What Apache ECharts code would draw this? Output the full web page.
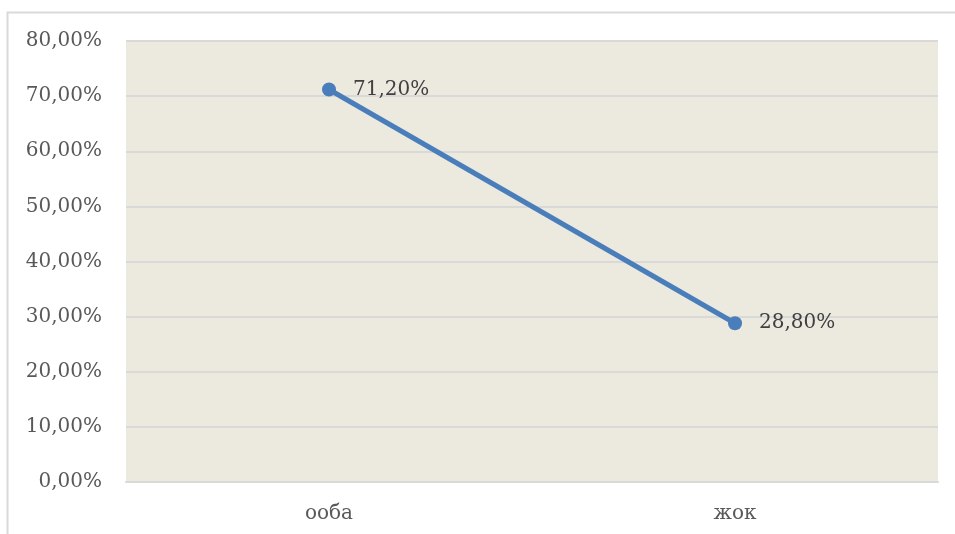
<!DOCTYPE html>
<html>
<head>
<meta charset="utf-8">
<script src="https://cdn.jsdelivr.net/npm/echarts@6/dist/echarts.min.js"></script>
<style>
  html, body { margin: 0; padding: 0; background: #fff; }
  #chart { width: 955px; height: 534px; }
</style>
</head>
<body>
<div id="chart"></div>
<script>
// категории и значения (%)
var categories = ['ооба', 'жок'];
var values = [71.2, 28.8];
var yTicks = { min: 0, max: 80, interval: 10 };

var fontFamily = '"DejaVu Serif", "Liberation Serif", serif';

function pct(v) {
    return v.toFixed(2).replace('.', ',') + '%';
}

var chart = echarts.init(document.getElementById('chart'));
var option = {
    backgroundColor: '#ffffff',
    animation: false,
    graphic: [{
        type: 'rect',
        shape: { x: 7.5, y: 12.5, width: 1000, height: 600 },
        style: { fill: 'none', stroke: '#d9d9d9', lineWidth: 2 },
        z: -10
    }],
    grid: {
        left: 126,
        right: 17,
        top: 41,
        bottom: 52,
        show: true,
        backgroundColor: '#ece9df',
        borderWidth: 0
    },
    xAxis: {
        type: 'category',
        data: categories,
        boundaryGap: true,
        axisLine: { lineStyle: { color: '#d9d9d9', width: 2 } },
        axisTick: { show: false },
        axisLabel: {
            color: '#595959',
            fontFamily: fontFamily,
            fontSize: 20,
            margin: 22
        }
    },
    yAxis: {
        type: 'value',
        min: yTicks.min,
        max: yTicks.max,
        interval: yTicks.interval,
        axisLine: { show: false },
        axisTick: { show: false },
        splitLine: { lineStyle: { color: '#d9d9d9', width: 2 } },
        axisLabel: {
            color: '#595959',
            fontFamily: fontFamily,
            fontSize: 20,
            margin: 24,
            formatter: function (v) { return pct(v); }
        }
    },
    series: [{
        type: 'line',
        data: values,
        symbol: 'circle',
        symbolSize: 14,
        lineStyle: { color: '#4a7ebb', width: 5 },
        itemStyle: { color: '#4a7ebb' },
        label: {
            show: true,
            position: 'right',
            distance: 17,
            color: '#404040',
            fontFamily: fontFamily,
            fontSize: 20,
            formatter: function (p) { return pct(p.value); }
        }
    }]
};
chart.setOption(option);
</script>
</body>
</html>
